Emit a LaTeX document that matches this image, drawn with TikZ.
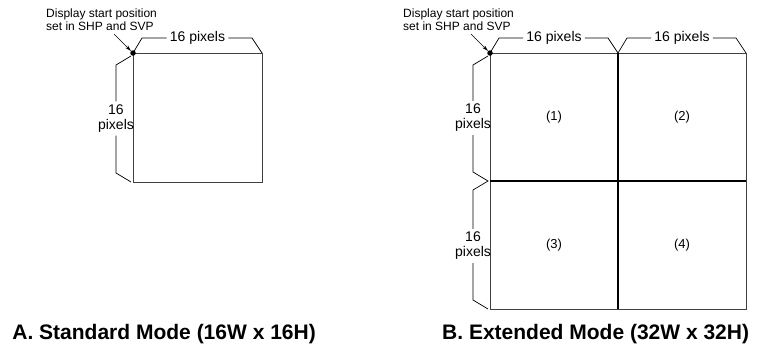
\documentclass[tikz,border=0pt]{standalone}
\usepackage{fontspec}
\setmainfont{Liberation Sans}
\usetikzlibrary{arrows.meta, positioning, calc}

\begin{document}
\begin{tikzpicture}[
  x=1pt, y=-1pt,
  panelbox/.style={draw=black!75, line width=0.9pt, minimum width=#1, minimum height=#1, inner sep=0pt, outer sep=0pt},
  midline/.style={line width=1.3pt, black},
  dimline/.style={line width=0.7pt, black},
  dimlabel/.style={font=\fontsize{14}{15}\selectfont, inner sep=3pt},
  cellnum/.style={font=\fontsize{13}{15}\selectfont, inner sep=0pt},
  note/.style={font=\fontsize{12}{13}\selectfont, align=left, inner sep=0pt, anchor=north west},
  startdot/.style={circle, fill=black, minimum size=5.5pt, inner sep=0pt},
  pointer/.style={-{Stealth[length=6pt, width=3.5pt]}, line width=0.7pt},
  title/.style={font=\fontsize{21}{24}\selectfont\bfseries, inner sep=0pt}
]
\useasboundingbox (0,0) rectangle (758,349);

% A. standard mode
\node[panelbox=129pt] (boxA) at (197.5,117.5) {};
\node[startdot] (dotA) at (boxA.north west) {};
\node[note] (noteA) at ($(boxA.north west)+(-87,-44)$) {Display start position\\set in SHP and SVP};
\coordinate (tailA) at ($(boxA.north west)+(-19,-19)$);
\draw[pointer] (tailA) -- (dotA);
\node[dimlabel] (topA) at ($(boxA.north)+(0,-15)$) {16 pixels};
\draw[dimline] (dotA.center) -- ++(9,-15) -- (topA.west);
\draw[dimline] (topA.east) -- ($(boxA.north east)+(-10,-15)$) -- (boxA.north east);
\node[dimlabel, align=center] (sideA) at ($(boxA.west)+(-17,1)$) {16\\pixels};
\draw[dimline] ($(boxA.north west)+(-2,3)$) -- ++(-15,9) -- (sideA.north);
\draw[dimline] (sideA.south) -- ($(boxA.south west)+(-17,-9)$) -- ($(boxA.south west)+(-2,0)$);

% B. extended mode
\node[panelbox=256pt] (boxB) at (618,181) {};
\draw[midline] (boxB.north) -- (boxB.south);
\draw[midline] (boxB.west) -- (boxB.east);
\node[cellnum] (c1) at ($(boxB.center)+(-64,-64)$) {(1)};
\node[cellnum] (c2) at ($(boxB.center)+(64,-64)$) {(2)};
\node[cellnum] (c3) at ($(boxB.center)+(-64,64)$) {(3)};
\node[cellnum] (c4) at ($(boxB.center)+(64,64)$) {(4)};
\node[startdot] (dotB) at (boxB.north west) {};
\node[note] (noteB) at ($(boxB.north west)+(-87,-44)$) {Display start position\\set in SHP and SVP};
\coordinate (tailB) at ($(boxB.north west)+(-19,-19)$);
\draw[pointer] (tailB) -- (dotB);
\node[dimlabel] (topB1) at ($(boxB.north)+(-64,-15)$) {16 pixels};
\node[dimlabel] (topB2) at ($(boxB.north)+(64,-15)$) {16 pixels};
\draw[dimline] (dotB.center) -- ++(9,-15) -- (topB1.west);
\draw[dimline] (topB1.east) -- ($(boxB.north)+(-10,-15)$) -- (boxB.north);
\draw[dimline] (boxB.north) -- ++(9,-15) -- (topB2.west);
\draw[dimline] (topB2.east) -- ($(boxB.north east)+(-10,-15)$) -- (boxB.north east);
\node[dimlabel, align=center] (sideB1) at ($(boxB.west)+(-17,-63)$) {16\\pixels};
\node[dimlabel, align=center] (sideB3) at ($(boxB.west)+(-17,65)$) {16\\pixels};
\coordinate (joinB) at ($(boxB.west)+(-2,0)$);
\draw[dimline] ($(boxB.north west)+(-2,3)$) -- ++(-15,9) -- (sideB1.north);
\draw[dimline] (sideB1.south) -- ($(joinB)+(-15,-9)$) -- (joinB) -- ++(-15,9) -- (sideB3.north);
\draw[dimline] (sideB3.south) -- ($(boxB.south west)+(-17,-9)$) -- ($(boxB.south west)+(-2,0)$);

% titles
\node[title, anchor=base east] (titleA) at (316,339) {A. Standard Mode (16W x 16H)};
\node[title, anchor=base west] (titleB) at (442,339) {B. Extended Mode (32W x 32H)};
\end{tikzpicture}
\end{document}
